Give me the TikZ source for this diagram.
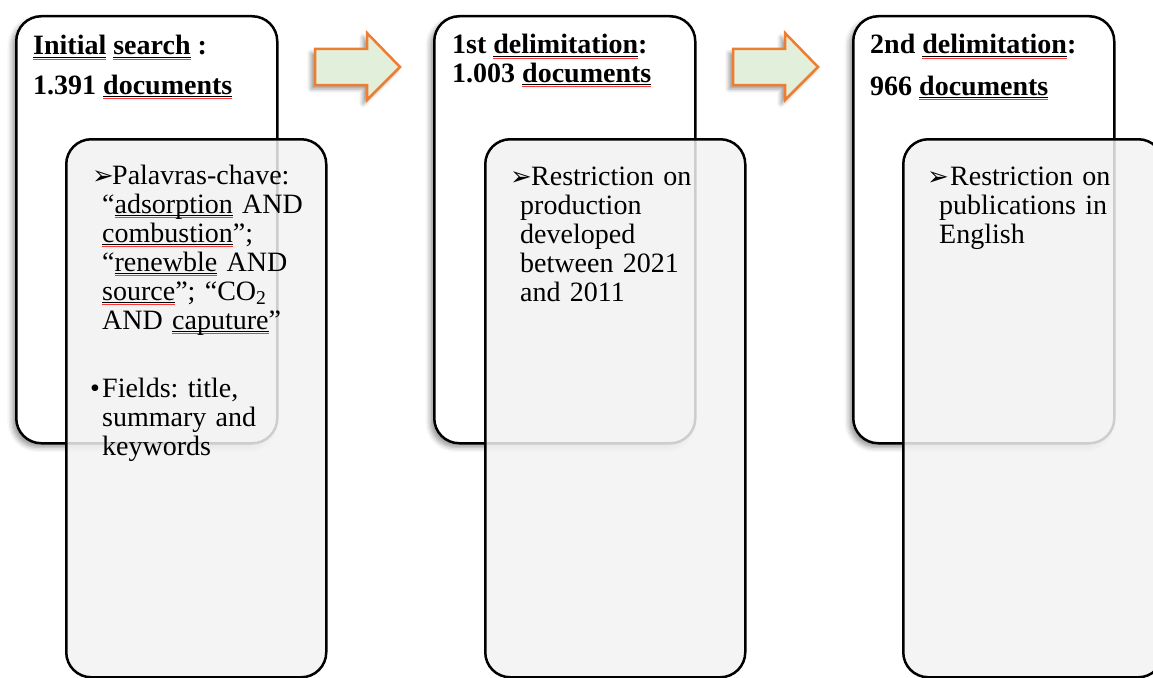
\documentclass[tikz,border=0pt]{standalone}
\usepackage{fontspec}
\setmainfont{Liberation Serif}
\newfontfamily\symfont{DejaVu Sans}
\usetikzlibrary{shadows.blur}
\frenchspacing
\newsavebox\spellbox
\newcommand\spell[1]{\leavevmode\sbox\spellbox{#1}\rlap{\rule[-3pt]{\wd\spellbox}{0.9pt}}\rlap{\textcolor{red!80!white}{\rule[-5pt]{\wd\spellbox}{0.9pt}}}\usebox\spellbox}
\newcommand\arw{{\symfont\bfseries\fontsize{26}{26}\selectfont ➢}}

\begin{document}
\begin{tikzpicture}[x=1pt,y=-1pt,
	backbox/.style={draw, line width=2.5pt, fill=white, rounded corners=25pt, minimum width=261pt, minimum height=427pt, anchor=north west, inner sep=0pt, blur shadow={shadow xshift=-4pt, shadow yshift=-4pt, shadow blur radius=5pt}},
	frontbox/.style={draw, line width=2.5pt, fill=boxgray, fill opacity=0.85, draw opacity=1, rounded corners=25pt, minimum width=260pt, minimum height=538pt, anchor=north west, inner sep=0pt},
	bigarrow/.style={draw=arrowline, line width=2.5pt, fill=arrowfill, line join=miter, blur shadow={shadow xshift=-4pt, shadow yshift=-4pt, shadow blur radius=4pt}},
	head/.style={inner sep=0pt, anchor=base west, font=\fontsize{28}{29}\selectfont\bfseries},
	txt/.style={inner sep=0pt, anchor=north west, text width=240pt, font=\fontsize{28}{29}\selectfont}]
\definecolor{boxgray}{RGB}{242,242,242}
\definecolor{arrowline}{RGB}{237,125,49}
\definecolor{arrowfill}{RGB}{226,239,218}
	\useasboundingbox (0,0) rectangle (1153,677);
	\node[backbox] (b1) at (15,15) {};
	\node[head] (h1a) at (33,55) {\spell{Initial} \spell{search} :};
	\node[head] (h1b) at (33,94) {1.391 \spell{documents}};
	\node[frontbox] (f1) at (65,138) {};
	\node[txt] (t1a) at (92,163.7) {\raggedright\leftskip=10pt\hspace*{-10pt}\strut\makebox[20pt][l]{\arw}Palavras-chave:\\“\spell{adsorption} AND\\\spell{combustion}”;\\“\spell{renewble} AND\\\spell{source}”; “CO\textsubscript{2}\\AND \spell{caputure}”\par};
	\node[txt] (t1b) at (90,376.7) {\raggedright\leftskip=12pt\hspace*{-12pt}\strut\makebox[12pt][l]{•}Fields: title,\\summary and\\keywords\par};
	\draw[bigarrow] (315,49) -- (367,49) -- (367,33) -- (400,67) -- (367,100) -- (367,85) -- (315,85) -- cycle;
	\node[backbox] (b2) at (433,15) {};
	\node[head] (h2a) at (452,54) {1st \spell{delimitation}:};
	\node[head] (h2b) at (452,82) {1.003 \spell{documents}};
	\node[frontbox] (f2) at (484,138) {};
	\node[txt] (t2) at (510,164.7) {\raggedright\leftskip=10pt\hspace*{-10pt}\strut\makebox[21pt][l]{\arw}Restriction on\\production\\developed\\between 2021\\and 2011\par};
	\draw[bigarrow] (733,49) -- (785,49) -- (785,33) -- (818,67) -- (785,100) -- (785,85) -- (733,85) -- cycle;
	\node[backbox] (b3) at (852,15) {};
	\node[head] (h3a) at (870,54) {2nd \spell{delimitation}:};
	\node[head] (h3b) at (870,95) {966 \spell{documents}};
	\node[frontbox] (f3) at (902,138) {};
	\node[txt] (t3) at (927,164.7) {\raggedright\leftskip=12pt\hspace*{-12pt}\strut\makebox[23pt][l]{\arw}Restriction on\\publications in\\English\par};
\end{tikzpicture}
\end{document}
